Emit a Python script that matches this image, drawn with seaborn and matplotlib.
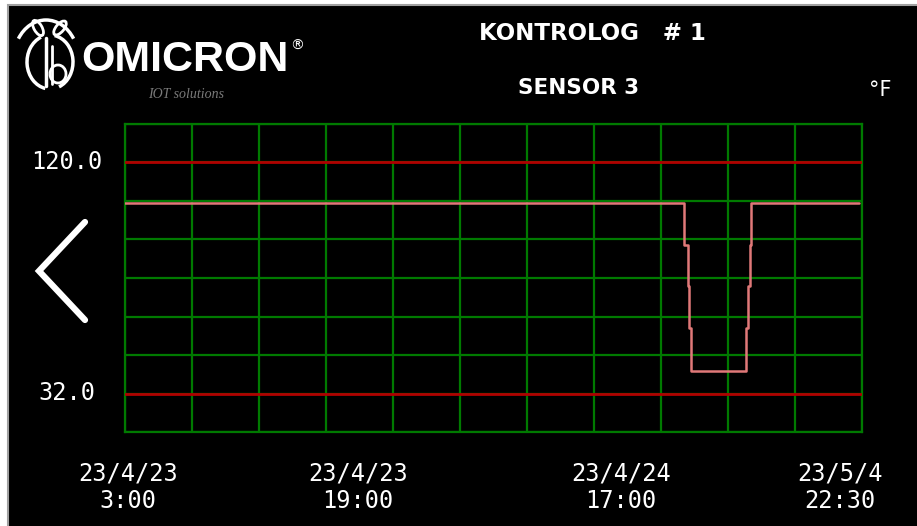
import numpy as np
import matplotlib
matplotlib.use("Agg")
import matplotlib.pyplot as plt
from matplotlib.patches import Rectangle, Arc, Ellipse
import seaborn as sns

# sensor log (sample index, temperature in F), drawn as steps
samples = [0, 334, 336, 337, 338, 371, 372, 373, 374, 438]
temps = [104.5, 88.5, 73, 57, 40.5, 57, 73, 88.5, 104.5, 104.5]

limit_high = 120.0
limit_low = 32.0

date_pos = [2, 139, 296, 427]
date_labels = ["23/4/23\n3:00", "23/4/23\n19:00", "23/4/24\n17:00", "23/5/4\n22:30"]

title = "KONTROLOG   # 1"
subtitle = "SENSOR 3"
unit = "\u00b0F"

sns.set_style("dark")
plt.rcParams["font.family"] = ["DejaVu Sans Mono", "DejaVu Sans"]

W, H = 917, 526
fig = plt.figure(figsize=(W / 100, H / 100), dpi=100, facecolor="white")

# overlay in pixel coords for the screen frame / logo / buttons
deco = fig.add_axes([0, 0, 1, 1], zorder=0)
deco.set_xlim(0, W)
deco.set_ylim(H, 0)
deco.axis("off")
deco.add_patch(Rectangle((8, 5), W, H, facecolor="black", edgecolor="#a0a0a0", lw=1.5))

grid_green = "#007a00"
red = "#b00000"
pink = "#e07878"

ax = fig.add_axes([125 / W, (H - 432) / H, 737 / W, 308 / H], zorder=2)
ax.set_facecolor("black")

step = (limit_high - limit_low) / 6
ax.set_ylim(limit_low - step, limit_high + step)
ax.set_xlim(0, 440)
ax.set_yticks(np.linspace(limit_low - step, limit_high + step, 9))
ax.set_yticklabels([])
ax.set_xticks(np.arange(0, 441, 40), minor=True)
ax.set_xticks(date_pos, date_labels)
ax.tick_params(axis="both", length=0, which="both")
ax.tick_params(axis="x", pad=21, labelsize=17, labelcolor="white")
ax.grid(False)
ax.grid(True, axis="y", which="major", color=grid_green, lw=1.6)
ax.grid(True, axis="x", which="minor", color=grid_green, lw=1.6)
for s in ax.spines.values():
    s.set_color(grid_green)
    s.set_linewidth(1.6)
    s.set_visible(True)

ax.axhline(limit_high, color=red, lw=2, zorder=3)
ax.axhline(limit_low, color=red, lw=2, zorder=3)

sns.lineplot(x=samples, y=temps, ax=ax, drawstyle="steps-post", color=pink,
             lw=1.8, estimator=None, zorder=4)

for t in ax.get_xticklabels():
    t.set_linespacing(1.2)

# y limit labels
fig.text(67 / W, 1 - 162 / H, f"{limit_high:.1f}", color="white", fontsize=17,
         ha="center", va="center")
fig.text(67 / W, 1 - 393 / H, f"{limit_low:.1f}", color="white", fontsize=17,
         ha="center", va="center")

# header
fig.text(592 / W, 1 - 34 / H, title, color="white", fontsize=16.5, fontweight="bold",
         ha="center", va="center", family="DejaVu Sans")
fig.text(579 / W, 1 - 88 / H, subtitle, color="white", fontsize=15.5, fontweight="bold",
         ha="center", va="center", family="DejaVu Sans")
fig.text(880 / W, 1 - 90 / H, unit, color="white", fontsize=15,
         ha="center", va="center", family="DejaVu Sans")

# logo
deco.text(81, 60, "OMICRON", color="white", fontsize=31, fontweight="bold",
          family="Liberation Sans", ha="left", va="center")
deco.text(297, 46, "\u00ae", color="white", fontsize=10, family="DejaVu Sans",
          ha="center", va="center")
deco.text(186, 94, "IOT solutions", color="#7a7a7a", fontsize=10, style="italic",
          family="Liberation Serif", ha="center", va="center")
deco.add_patch(Arc((50, 62), 46, 54, theta1=100, theta2=250, color="white", lw=2.5))
deco.add_patch(Arc((50, 62), 46, 54, theta1=-80, theta2=70, color="white", lw=2.5))
deco.plot([46, 46], [38, 86], color="white", lw=2.5)
deco.plot([52, 52], [46, 84], color="white", lw=2)
deco.add_patch(Arc((58, 74), 16, 18, theta1=-180, theta2=180, color="white", lw=2))
deco.add_patch(Ellipse((38, 28), 8, 17, angle=-30, fill=False, color="white", lw=2))
deco.add_patch(Ellipse((60, 28), 8, 17, angle=40, fill=False, color="white", lw=2))
deco.add_patch(Arc((46, 58), 64, 76, theta1=215, theta2=325, color="white", lw=2.5))

# back button
deco.plot([85, 39, 85], [222, 271, 320], color="white", lw=4.5,
          solid_capstyle="round", solid_joinstyle="miter")

fig.savefig("out.png", dpi=100, facecolor=fig.get_facecolor())
